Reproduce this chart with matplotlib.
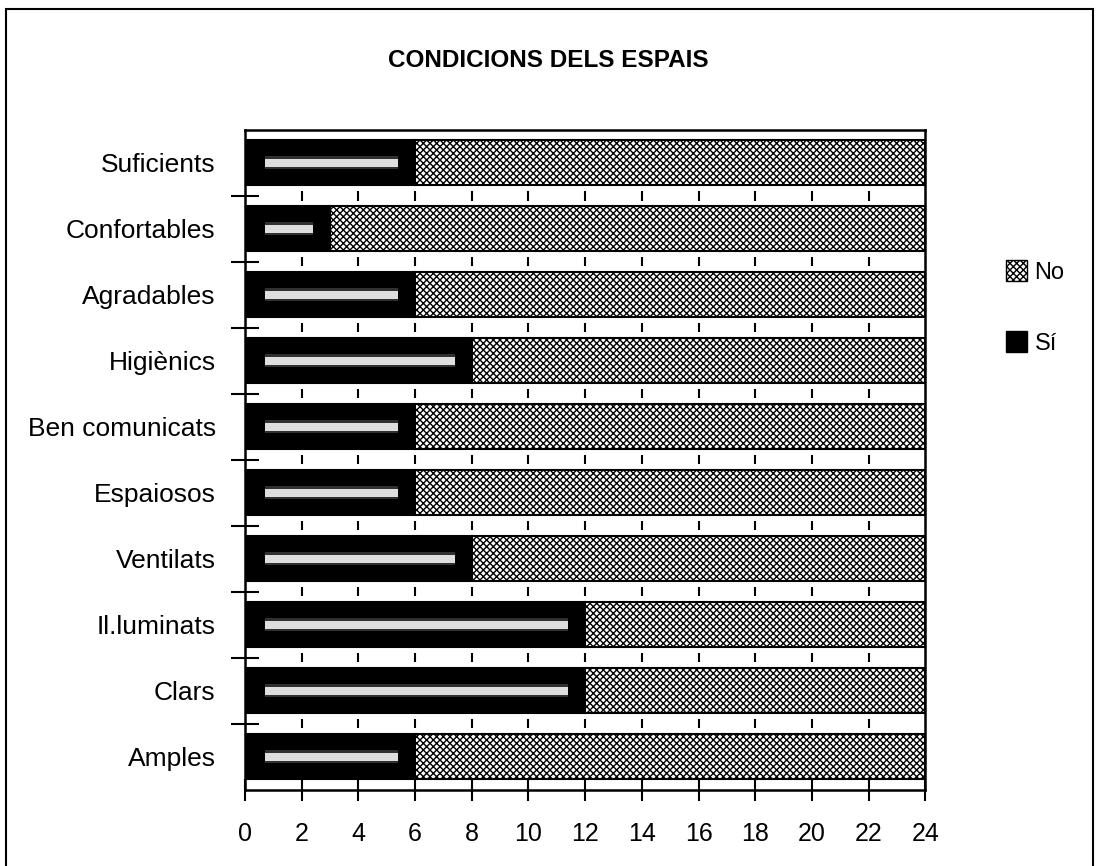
import matplotlib.pyplot as plt
import numpy as np
from matplotlib.patches import Rectangle, Patch

categories = ["Suficients", "Confortables", "Agradables", "Higiènics", "Ben comunicats",
              "Espaiosos", "Ventilats", "Il.luminats", "Clars", "Amples"]
si = [6, 3, 6, 8, 6, 6, 8, 12, 12, 6]
no = [18, 21, 18, 16, 18, 18, 16, 12, 12, 18]
xticks = list(range(0, 25, 2))

plt.rcParams["font.family"] = ["Liberation Sans", "DejaVu Sans"]
plt.rcParams["hatch.linewidth"] = 1.0

fig = plt.figure(figsize=(11.03, 8.66), dpi=100)
ax = fig.add_axes([0.222, 0.088, 0.617, 0.762])

y = np.arange(len(categories))
h = 0.68
ax.barh(y, si, height=h, color="black", edgecolor="black", linewidth=1.5, zorder=3)
ax.barh(y, no, left=si, height=h, color="white", edgecolor="black",
        hatch="xxxxx", linewidth=1.5, zorder=3)
# pale streak inside the black bars (scan look)
streak = np.array(si) - 1.3
ax.barh(y, streak, left=0.7, height=0.2, color="#8c8c8c", linewidth=0, zorder=4, alpha=0.35)
ax.barh(y, streak, left=0.7, height=0.12, color="#dedede", linewidth=0, zorder=4)

# short dashes in the white gaps at each x tick
for b in y[:-1] + 0.5:
    ax.vlines(xticks[1:-1], b - 0.07, b + 0.07, color="black", lw=1.5, zorder=2)

ax.set_xlim(0, 24)
ax.set_ylim(len(categories) - 0.5, -0.5)
ax.set_xticks(xticks)
ax.set_yticks(y)
ax.set_yticklabels(categories)
ax.set_yticks(y[:-1] + 0.5, minor=True)
ax.tick_params(axis="y", which="major", length=0, pad=21, labelsize=19)
ax.tick_params(axis="y", which="minor", direction="inout", length=20, width=1.5)
ax.tick_params(axis="x", direction="inout", length=16, width=1.5, pad=15, labelsize=18)
for s in ax.spines.values():
    s.set_linewidth(1.8)

fig.text(0.497, 0.930, "CONDICIONS DELS ESPAIS", ha="center", va="center",
         fontsize=17.5, fontweight="bold")

handles = [Patch(facecolor="white", edgecolor="black", hatch="xxxxx", label="No"),
           Patch(facecolor="black", edgecolor="black", label="Sí")]
fig.legend(handles=handles, loc="center left", bbox_to_anchor=(0.893, 0.645),
           frameon=False, fontsize=17, handlelength=0.9, handleheight=1.0,
           handletextpad=0.3, labelspacing=2.0)

fig.add_artist(Rectangle((0.005, -0.02), 0.986, 1.01, transform=fig.transFigure,
                         fill=False, edgecolor="black", linewidth=1.5))

plt.savefig("out.png", dpi=100)
